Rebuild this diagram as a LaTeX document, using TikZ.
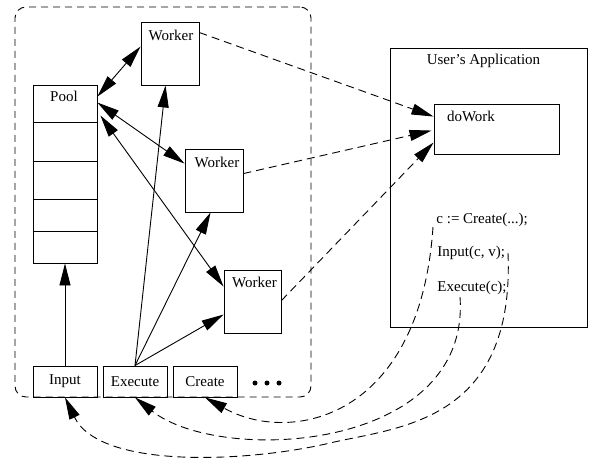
\documentclass[tikz,border=0pt]{standalone}
\usepackage{fontspec}
\setmainfont{Liberation Serif}
\usetikzlibrary{arrows.meta,calc}
\begin{document}
\begin{tikzpicture}[x=1pt,y=-1pt,
  font=\fontsize{15}{18}\selectfont,
  line width=0.9pt,
  box/.style={draw, rectangle, inner sep=0pt},
  tipend/.style={-{Triangle[length=22pt,width=11pt]}},
  tipboth/.style={{Triangle[length=22pt,width=11pt]}-{Triangle[length=22pt,width=11pt]}},
  dsh/.style={dash pattern=on 8pt off 5pt},
  dot/.style={circle, fill, inner sep=0pt, minimum size=5pt},
  lbl/.style={anchor=base, inner sep=0pt}
]
\useasboundingbox (0,0) rectangle (592,458);

% frame
\node[draw, dash pattern=on 7pt off 5pt, rounded corners=11pt, minimum width=296pt, minimum height=390pt, inner sep=0pt] (frame) at (163,202) {};

% boxes
\node[box, minimum width=58pt, minimum height=63pt] (w1) at (170,53.5) {};
\node[box, minimum width=58pt, minimum height=63pt] (w2) at (214,180.5) {};
\node[box, minimum width=57pt, minimum height=63pt] (w3) at (252.5,301.5) {};
\node[box, minimum width=64pt, minimum height=178pt] (pool) at (65,174) {};
\node[box, minimum width=64pt, minimum height=31pt] (input) at (65,381.5) {Input};
\node[box, minimum width=64pt, minimum height=31pt] (execute) at (135,381.5) {Execute};
\node[box, minimum width=64pt, minimum height=31pt] (create) at (205,381.5) {Create};
\node[box, minimum width=197pt, minimum height=279pt] (app) at (488.5,187.5) {};
\node[box, minimum width=125pt, minimum height=50pt] (dowork) at (496.5,129) {};

% pool cells
\foreach \yy in {38,77,115,147}
  \draw ($(pool.north west)+(0,\yy)$) -- ($(pool.north east)+(0,\yy)$);

% dots
\node[dot] (d1) at (255,383) {};
\node[dot] (d2) at (267,383) {};
\node[dot] (d3) at (279,383) {};

% texts
\node[lbl] (w1t) at ($(w1.north)+(1,19)$) {Worker};
\node[lbl] (w2t) at ($(w2.north)+(3,19)$) {Worker};
\node[lbl] (w3t) at ($(w3.north)+(2,18)$) {Worker};
\node[lbl] (poolt) at ($(pool.north)+(-1,17)$) {Pool};
\node[lbl] (appt) at ($(app.north)+(-5,17)$) {User's Application};
\node[lbl, anchor=base west] (dwt) at ($(dowork.north west)+(13,18)$) {doWork};
\node[lbl, anchor=base west] (c1) at (436,223) {c := Create(...);};
\node[lbl, anchor=base west] (c2) at (437,256) {Input(c, v);};
\node[lbl, anchor=base west] (c3) at (437,291) {Execute(c);};

% solid connectors
\draw[tipboth] ($(pool.north east)+(0,12)$) -- ($(w1.north west)+(0,25)$);
\draw[tipboth] ($(pool.north east)+(0,18)$) -- ($(w2.north west)+(0,15)$);
\draw[tipboth] ($(pool.north east)+(3,31)$) -- ($(w3.north west)+(0,17)$);
\draw[tipend] (execute.north) -- ($(w1.south west)+(25,0)$);
\draw[tipend] (execute.north) -- ($(w2.south west)+(26,0)$);
\draw[tipend] (execute.north) -- ($(w3.north west)+(0,45)$);
\draw[tipend] (input.north) -- (pool.south);

% dashed connectors to doWork
\draw[dsh, tipend] ($(w1.north east)+(0,11)$) -- ($(dowork.north west)+(0,13)$);
\draw[dsh, tipend] ($(w2.north east)+(0,25)$) -- ($(dowork.north west)+(-2,27)$);
\draw[dsh, tipend] ($(w3.north east)+(0,31)$) -- ($(dowork.north west)+(0,39)$);

% calls from the application
\coordinate (s1) at (433,227);
\coordinate (s2) at (460,297);
\coordinate (s3) at (508,253);
\draw[dsh, tipend] (s1) .. controls (420,420) and (290,445) .. (create.south);
\draw[dsh, tipend] (s2) .. controls (471,452) and (220,465) .. (execute.south);
\draw[dsh, tipend] (s3) .. controls (515,423) and (398,427) .. (330,443)
   .. controls (250,462) and (100,470) .. (input.south);
\end{tikzpicture}
\end{document}
